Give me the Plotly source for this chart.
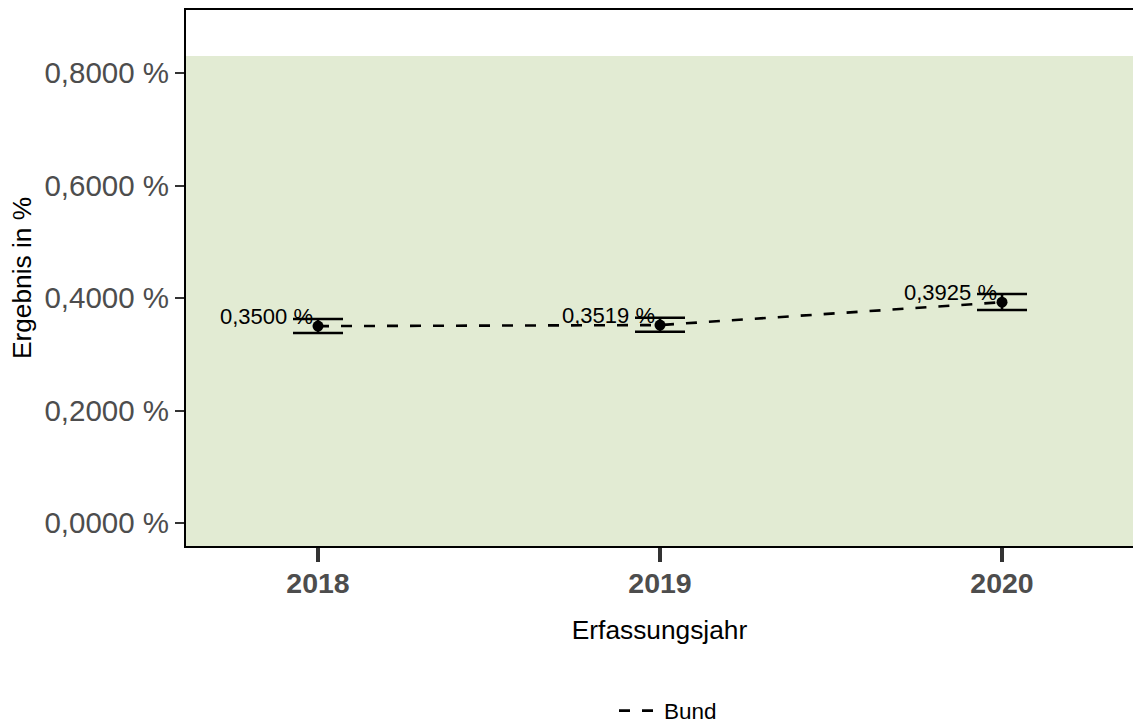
import plotly.graph_objects as go

years = [2018, 2019, 2020]
values = [0.3500, 0.3519, 0.3925]
ci_low = [0.3378, 0.3400, 0.3787]
ci_high = [0.3627, 0.3650, 0.4070]
labels = ["0,3500 %", "0,3519 %", "0,3925 %"]
y_ticks = [0.0, 0.2, 0.4, 0.6, 0.8]
y_ticktext = ["0,0000 %", "0,2000 %", "0,4000 %", "0,6000 %", "0,8000 %"]
ref_upper = 0.83

FONT = "Liberation Sans, Arial, Helvetica, sans-serif"
y_range = [-0.0409, 0.912]
x_range = [2017.614, 2020.383]

fig = go.Figure()

fig.add_shape(type="rect", xref="paper", yref="y", x0=0, x1=1,
              y0=y_range[0], y1=ref_upper, fillcolor="#E2EBD3",
              line=dict(width=0), layer="below")

fig.add_trace(go.Scatter(
    x=years, y=values, mode="lines", name="Bund",
    line=dict(color="black", width=2.6, dash="11px,12px"),
    showlegend=True,
))

fig.add_trace(go.Scatter(
    x=years, y=values, mode="markers", showlegend=False,
    marker=dict(color="black", size=11),
    error_y=dict(type="data", symmetric=False,
                 array=[h - v for h, v in zip(ci_high, values)],
                 arrayminus=[v - l for v, l in zip(values, ci_low)],
                 color="black", thickness=2.6, width=25),
))

for x, y, t in zip(years, values, labels):
    fig.add_annotation(x=x, y=y, text=t, showarrow=False, xanchor="right",
                       yanchor="middle", xshift=-3, yshift=10,
                       font=dict(family=FONT, size=22, color="black"))

fig.update_layout(
    width=1133, height=723,
    margin=dict(l=186, r=0, t=10, b=177, autoexpand=False),
    plot_bgcolor="white", paper_bgcolor="white",
    font=dict(family=FONT),
    showlegend=True,
    legend=dict(orientation="h", xref="container", yref="container",
                x=614 / 1133, xanchor="left", y=1 - 711 / 723,
                yanchor="middle", itemwidth=40,
                font=dict(family=FONT, size=22.5, color="black"),
                bgcolor="rgba(0,0,0,0)"),
    xaxis=dict(
        range=x_range, tickmode="array", tickvals=years,
        ticktext=[str(y) for y in years],
        showline=True, linecolor="black", linewidth=2, mirror=True,
        ticks="outside", ticklen=14, tickwidth=4, tickcolor="#333333",
        ticklabelstandoff=-3,
        tickfont=dict(family=FONT, size=28.5, color="#4D4D4D", weight="bold"),
        showgrid=False, zeroline=False,
        title=dict(text="Erfassungsjahr", font=dict(family=FONT, size=26.3, color="black"), standoff=22),
    ),
    yaxis=dict(
        range=y_range, tickmode="array", tickvals=y_ticks, ticktext=y_ticktext,
        showline=True, linecolor="black", linewidth=2,
        ticks="outside", ticklen=9, tickwidth=2, tickcolor="#333333",
        tickfont=dict(family=FONT, size=29.5, color="#4D4D4D"),
        showgrid=False, zeroline=False,
        title=dict(text="Ergebnis in %", font=dict(family=FONT, size=26.3, color="black"), standoff=5),
    ),
)

fig.write_html("out.html", config={"displayModeBar": False},
               post_script="document.body.style.margin='0';document.body.style.overflow='hidden';")
